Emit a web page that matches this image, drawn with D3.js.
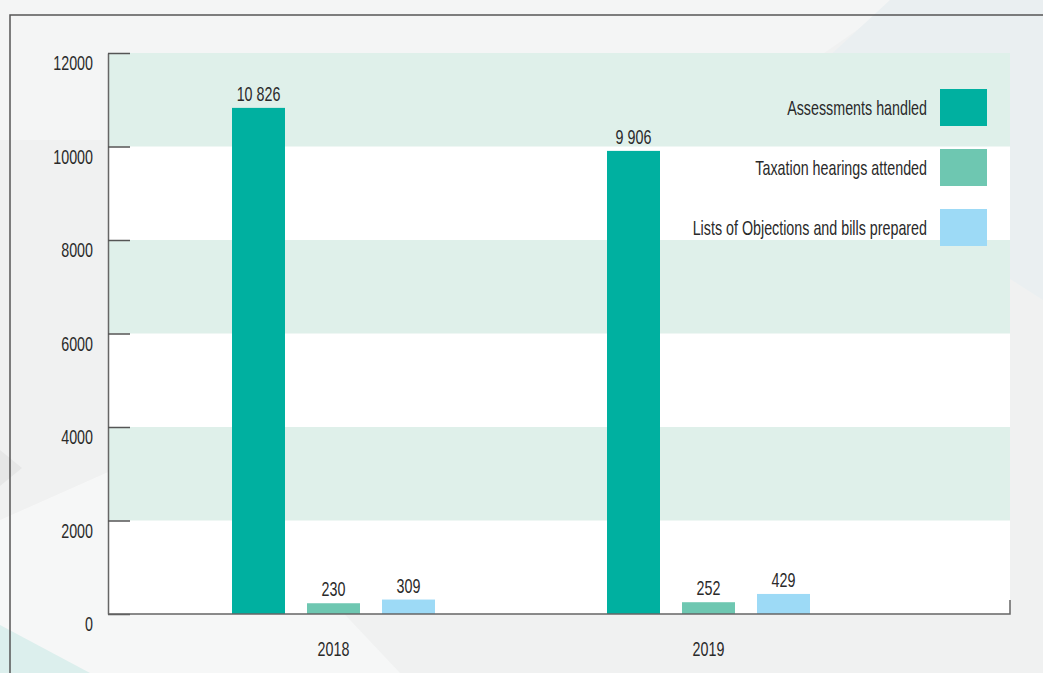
<!DOCTYPE html>
<html>
<head>
<meta charset="utf-8">
<script src="https://cdn.jsdelivr.net/npm/d3@7"></script>
<style>
  body { margin: 0; background: #f1f2f2; }
  svg { display: block; }
  text { font-family: "Liberation Sans", Arial, sans-serif; fill: #2a2a2a; }
</style>
</head>
<body>
<svg id="chart" width="1043" height="673"></svg>
<script>
const years = ["2018", "2019"];
const series = ["Assessments handled", "Taxation hearings attended", "Lists of Objections and bills prepared"];
const assessments = [10826, 9906];
const hearings = [230, 252];
const objections = [309, 429];
const yTicks = [0, 2000, 4000, 6000, 8000, 10000, 12000];
const colors = ["#00b0a0", "#6ec7b1", "#9ddaf6"];

const svg = d3.select("#chart");
const W = 1043, H = 673;
const margin = { top: 53, right: 33, bottom: 59, left: 108 };
const plotW = W - margin.left - margin.right;
const plotH = H - margin.top - margin.bottom;
const fs = "20px";

// squeeze text horizontally to look like a condensed face
function condense(sel) {
  sel.each(function () {
    const t = d3.select(this);
    const tx = +t.attr("x") || 0, ty = +t.attr("y") || 0;
    t.attr("x", 0).attr("y", 0).attr("transform", `translate(${tx},${ty}) scale(0.715,1)`);
  });
}

// background shapes
const bg = svg.append("g");
bg.append("rect").attr("width", W).attr("height", H).attr("fill", "#f0f1f1");
bg.append("polygon").attr("points", "0,0 900,0 700,140 0,140").attr("fill", "#f4f5f5");
bg.append("polygon").attr("points", "890,0 1043,0 1043,300 760,120").attr("fill", "#eaeff1");
bg.append("polygon").attr("points", "0,450 22,468 0,486").attr("fill", "#e6e7e7");
bg.append("polygon").attr("points", "0,520 180,440 400,673 0,673").attr("fill", "#f6f7f7");
bg.append("polygon").attr("points", "0,625 90,673 0,673").attr("fill", "#dcefed");

// frame
svg.append("path")
  .attr("d", "M10,673 L10,15 L1043,15")
  .attr("fill", "none").attr("stroke", "#555").attr("stroke-width", 1.5);

const g = svg.append("g").attr("transform", `translate(${margin.left},${margin.top})`);

const y = d3.scaleLinear().domain([0, 12000]).range([plotH, 0]);
const x0 = d3.scaleBand().domain(years).range([38, 788]);
const x1 = d3.scaleBand().domain(series).range([-101.5, 101.5]).paddingInner(22 / 75).paddingOuter(0);

// plot background and bands
g.append("rect").attr("width", plotW).attr("height", plotH).attr("fill", "#ffffff");
const bands = [[2000, 4000], [6000, 8000], [10000, 12000]];
g.selectAll(".band").data(bands).enter().append("rect")
  .attr("class", "band")
  .attr("x", 0).attr("width", plotW)
  .attr("y", d => y(d[1]))
  .attr("height", d => y(d[0]) - y(d[1]))
  .attr("fill", "#dff0ea");

// y axis
const yAxis = g.append("g")
  .call(d3.axisLeft(y).tickValues(yTicks).tickFormat(d => d).tickSizeInner(-22).tickSizeOuter(0).tickPadding(15));
yAxis.select(".domain").attr("stroke", "#666").attr("stroke-width", 1.5);
yAxis.selectAll(".tick line").attr("stroke", "#555").attr("stroke-width", 1.5);
yAxis.selectAll(".tick text").attr("dy", 16.5).style("font-size", fs).attr("fill", "#2a2a2a").call(condense);

// bars
const rows = years.map((yr, i) => ({ year: yr, values: [assessments[i], hearings[i], objections[i]] }));
const fmt = v => d3.format(",")(v).replace(/,/g, " ");

const grp = g.selectAll(".year").data(rows).enter().append("g")
  .attr("class", "year")
  .attr("transform", d => `translate(${x0(d.year) + x0.bandwidth() / 2},0)`);

grp.selectAll("rect").data(d => d.values.map((v, j) => ({ key: series[j], v, j }))).enter().append("rect")
  .attr("x", d => x1(d.key))
  .attr("width", x1.bandwidth())
  .attr("y", d => y(d.v))
  .attr("height", d => plotH - y(d.v))
  .attr("fill", d => colors[d.j]);

grp.selectAll(".val").data(d => d.values.map((v, j) => ({ key: series[j], v, j }))).enter().append("text")
  .attr("class", "val")
  .attr("x", d => x1(d.key) + x1.bandwidth() / 2)
  .attr("y", d => y(d.v) - 7)
  .attr("text-anchor", "middle")
  .style("font-size", fs)
  .text(d => fmt(d.v))
  .call(condense);

// x baseline
g.append("path")
  .attr("d", `M0,${plotH} L${plotW},${plotH} L${plotW},${plotH - 14}`)
  .attr("fill", "none").attr("stroke", "#666").attr("stroke-width", 1.5);

const xAxis = g.append("g").attr("transform", `translate(0,${plotH})`)
  .call(d3.axisBottom(x0).tickSize(0).tickPadding(28));
xAxis.select(".domain").remove();
xAxis.selectAll("text").style("font-size", fs).attr("fill", "#2a2a2a").call(condense);

// legend
const legend = g.append("g").attr("transform", `translate(${832},36)`);
const li = legend.selectAll(".li").data(series).enter().append("g")
  .attr("class", "li")
  .attr("transform", (d, i) => `translate(0,${i * 60})`);
li.append("rect").attr("x", 0).attr("y", 0).attr("width", 47).attr("height", 37)
  .attr("fill", (d, i) => colors[i]);
li.append("text").attr("x", -13).attr("y", 18.5).attr("dy", "0.35em")
  .attr("text-anchor", "end").style("font-size", fs).text(d => d)
  .call(condense);
</script>
</body>
</html>
